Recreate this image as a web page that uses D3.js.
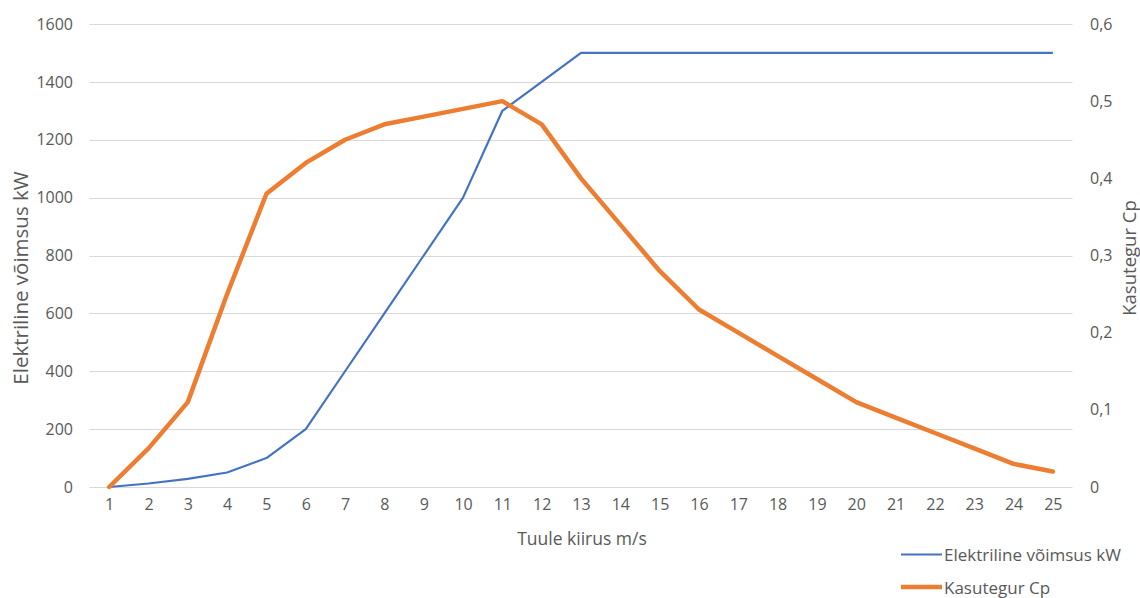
<!DOCTYPE html>
<html>
<head>
<meta charset="utf-8">
<script src="https://cdn.jsdelivr.net/npm/d3@7"></script>
<style>
  html, body { margin: 0; padding: 0; background: #ffffff; }
  svg { display: block; }
  text { font-family: "Open Sans", "Noto Sans", sans-serif; fill: #595959; }
</style>
</head>
<body>
<svg id="chart" width="1140" height="598"></svg>
<script>
// Wind speed categories (m/s)
const windSpeeds = [1, 2, 3, 4, 5, 6, 7, 8, 9, 10, 11, 12, 13, 14, 15, 16, 17, 18, 19, 20, 21, 22, 23, 24, 25];
// Electrical power output, kW
const powerKW = [0, 12, 28, 50, 100, 200, 400, 600, 800, 1000, 1300, 1400, 1500, 1500, 1500, 1500, 1500, 1500, 1500, 1500, 1500, 1500, 1500, 1500, 1500];
// Power coefficient Cp
const cpValues = [0, 0.05, 0.11, 0.25, 0.38, 0.42, 0.45, 0.47, 0.48, 0.49, 0.50, 0.47, 0.40, 0.34, 0.28, 0.23, 0.20, 0.17, 0.14, 0.11, 0.09, 0.07, 0.05, 0.03, 0.02];
// Axis ticks
const leftTicks = [0, 200, 400, 600, 800, 1000, 1200, 1400, 1600];
const rightTicks = [0, 0.1, 0.2, 0.3, 0.4, 0.5, 0.6];

const seriesNames = ["Elektriline võimsus kW", "Kasutegur Cp"];
const colors = { power: "#4472c4", cp: "#ed7d31" };

const svg = d3.select("#chart");
const plot = { left: 89.5, right: 1072.5, top: 24, bottom: 487 };

const x = d3.scalePoint().domain(windSpeeds).range([plot.left, plot.right]).padding(0.5);
const yL = d3.scaleLinear().domain([0, 1600]).range([plot.bottom, plot.top]);
const yR = d3.scaleLinear().domain([0, 0.6]).range([plot.bottom, plot.top]);

// Horizontal gridlines
svg.append("g")
  .selectAll("line")
  .data(leftTicks)
  .join("line")
  .attr("x1", plot.left).attr("x2", plot.right)
  .attr("y1", d => Math.round(yL(d)) + 0.5).attr("y2", d => Math.round(yL(d)) + 0.5)
  .attr("stroke", "#d9d9d9").attr("stroke-width", 1);

// Left axis labels
const leftAxis = d3.axisLeft(yL).tickValues(leftTicks).tickSize(0).tickPadding(0).tickFormat(d3.format("d"));
svg.append("g")
  .attr("transform", "translate(73,0)")
  .call(leftAxis)
  .call(g => g.select(".domain").remove())
  .call(g => g.selectAll("text").attr("font-size", 16).attr("fill", "#595959").attr("font-family", null));

// Right axis labels (decimal comma)
const rightAxis = d3.axisRight(yR).tickValues(rightTicks).tickSize(0).tickPadding(0)
  .tickFormat(d => d === 0 ? "0" : d3.format(".1f")(d).replace(".", ","));
svg.append("g")
  .attr("transform", "translate(1090,0)")
  .call(rightAxis)
  .call(g => g.select(".domain").remove())
  .call(g => g.selectAll("text").attr("font-size", 16).attr("fill", "#595959").attr("font-family", null));

// Category axis labels
const bottomAxis = d3.axisBottom(x).tickSize(0).tickPadding(0);
svg.append("g")
  .attr("transform", "translate(0,499)")
  .call(bottomAxis)
  .call(g => g.select(".domain").remove())
  .call(g => g.selectAll("text").attr("font-size", 16).attr("fill", "#595959").attr("font-family", null));

// Axis titles
svg.append("text")
  .attr("x", 582).attr("y", 538)
  .attr("text-anchor", "middle").attr("dominant-baseline", "central")
  .attr("font-size", 17.5)
  .text("Tuule kiirus m/s");

svg.append("text")
  .attr("transform", "translate(20,278) rotate(-90)")
  .attr("text-anchor", "middle").attr("dominant-baseline", "central")
  .attr("font-size", 20.5)
  .text("Elektriline võimsus kW");

svg.append("text")
  .attr("transform", "translate(1128,258) rotate(-90)")
  .attr("text-anchor", "middle").attr("dominant-baseline", "central")
  .attr("font-size", 18.5)
  .text("Kasutegur Cp");

// Series lines
const powerLine = d3.line().x((d, i) => x(windSpeeds[i])).y(d => yL(d));
const cpLine = d3.line().x((d, i) => x(windSpeeds[i])).y(d => yR(d));

svg.append("path")
  .datum(powerKW)
  .attr("d", powerLine)
  .attr("fill", "none")
  .attr("stroke", colors.power)
  .attr("stroke-width", 2.2)
  .attr("stroke-linejoin", "round");

svg.append("path")
  .datum(cpValues)
  .attr("d", cpLine)
  .attr("fill", "none")
  .attr("stroke", colors.cp)
  .attr("stroke-width", 4.5)
  .attr("stroke-linejoin", "round")
  .attr("stroke-linecap", "round");

// Legend
const legend = [
  { name: seriesNames[0], color: colors.power, width: 2.2, y: 554.5 },
  { name: seriesNames[1], color: colors.cp, width: 4.5, y: 587 }
];
const lg = svg.append("g");
lg.selectAll("line")
  .data(legend)
  .join("line")
  .attr("x1", 901).attr("x2", 942)
  .attr("y1", d => d.y).attr("y2", d => d.y)
  .attr("stroke", d => d.color).attr("stroke-width", d => d.width);
lg.selectAll("text")
  .data(legend)
  .join("text")
  .attr("x", 944).attr("y", d => d.y)
  .attr("dominant-baseline", "central")
  .attr("font-size", 17)
  .text(d => d.name);
</script>
</body>
</html>
